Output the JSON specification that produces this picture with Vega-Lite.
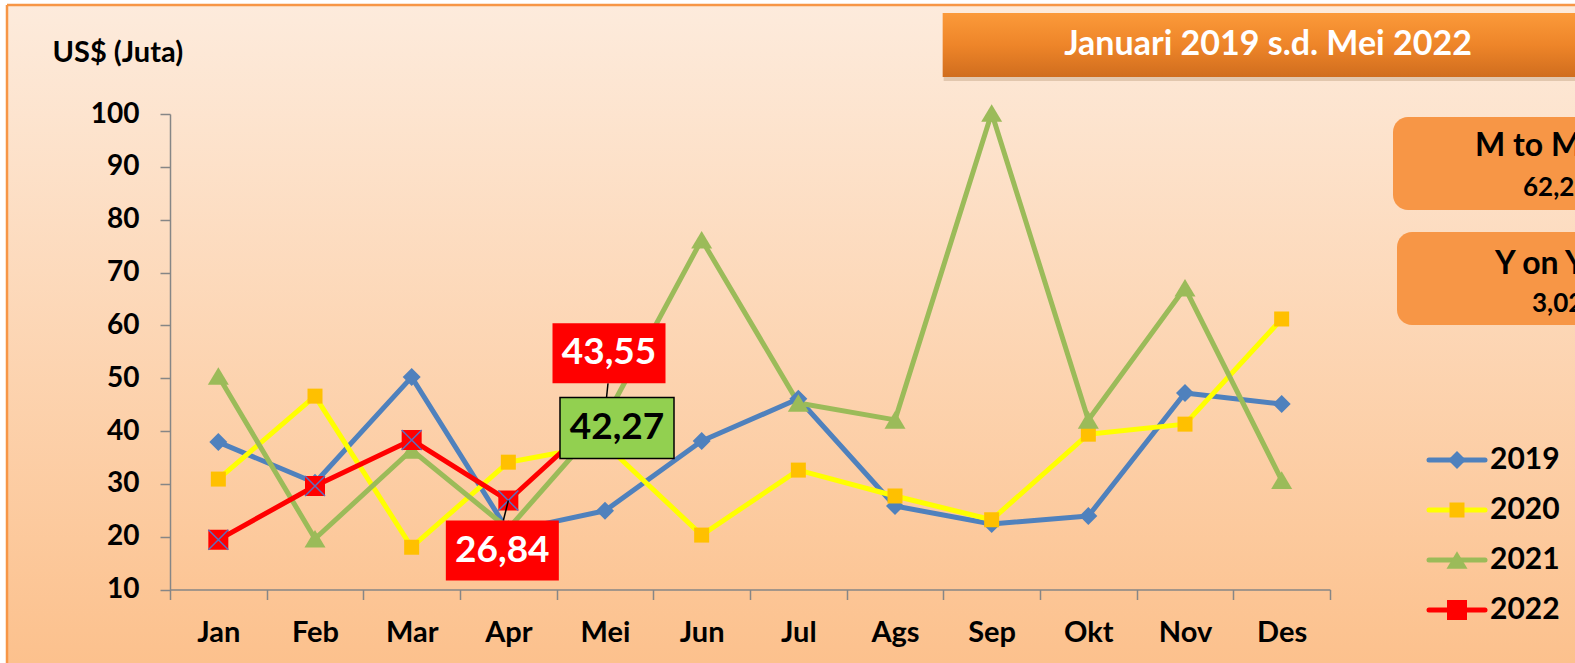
{
  "$schema": "https://vega.github.io/schema/vega-lite/v6.json",
  "width": 1568,
  "height": 658,
  "autosize": {"type": "none"},
  "padding": {"left": 7, "top": 5, "right": 0, "bottom": 0},
  "background": "#ffffff",
  "config": {
    "view": {"stroke": null},
    "font": "Lato",
    "locale": {"number": {"decimal": ",", "thousands": ".", "grouping": [3], "currency": ["", ""]}}
  },
  "datasets": {
    "sales": [
      {"series": "2019", "month": "Jan", "value": 37.9},
      {"series": "2019", "month": "Feb", "value": 30.2},
      {"series": "2019", "month": "Mar", "value": 50.2},
      {"series": "2019", "month": "Apr", "value": 21.0},
      {"series": "2019", "month": "Mei", "value": 24.9},
      {"series": "2019", "month": "Jun", "value": 38.1},
      {"series": "2019", "month": "Jul", "value": 46.1},
      {"series": "2019", "month": "Ags", "value": 25.8},
      {"series": "2019", "month": "Sep", "value": 22.4},
      {"series": "2019", "month": "Okt", "value": 23.9},
      {"series": "2019", "month": "Nov", "value": 47.2},
      {"series": "2019", "month": "Des", "value": 45.1},
      {"series": "2020", "month": "Jan", "value": 30.9},
      {"series": "2020", "month": "Feb", "value": 46.6},
      {"series": "2020", "month": "Mar", "value": 18.0},
      {"series": "2020", "month": "Apr", "value": 34.1},
      {"series": "2020", "month": "Mei", "value": 37.5},
      {"series": "2020", "month": "Jun", "value": 20.3},
      {"series": "2020", "month": "Jul", "value": 32.6},
      {"series": "2020", "month": "Ags", "value": 27.7},
      {"series": "2020", "month": "Sep", "value": 23.2},
      {"series": "2020", "month": "Okt", "value": 39.4},
      {"series": "2020", "month": "Nov", "value": 41.3},
      {"series": "2020", "month": "Des", "value": 61.2},
      {"series": "2021", "month": "Jan", "value": 50.4},
      {"series": "2021", "month": "Feb", "value": 19.6},
      {"series": "2021", "month": "Mar", "value": 36.4},
      {"series": "2021", "month": "Apr", "value": 21.5},
      {"series": "2021", "month": "Mei", "value": 42.27},
      {"series": "2021", "month": "Jun", "value": 76.2},
      {"series": "2021", "month": "Jul", "value": 45.3},
      {"series": "2021", "month": "Ags", "value": 42.1},
      {"series": "2021", "month": "Sep", "value": 100.2},
      {"series": "2021", "month": "Okt", "value": 42.1},
      {"series": "2021", "month": "Nov", "value": 67.1},
      {"series": "2021", "month": "Des", "value": 30.7},
      {"series": "2022", "month": "Jan", "value": 19.4},
      {"series": "2022", "month": "Feb", "value": 29.6},
      {"series": "2022", "month": "Mar", "value": 38.3},
      {"series": "2022", "month": "Apr", "value": 26.84},
      {"series": "2022", "month": "Mei", "value": 43.55}
    ]
  },
  "data": {"name": "sales"},
  "layer": [
    {
      "data": {"values": [{}]},
      "mark": {
        "type": "rect",
        "fill": {"gradient": "linear", "x1": 0, "y1": 0, "x2": 0, "y2": 1,
          "stops": [{"offset": 0, "color": "#FDEBDC"}, {"offset": 1, "color": "#FCC18D"}]},
        "stroke": "#F79646",
        "strokeWidth": 2.5,
        "strokeDash": [1568, 2226, 658, 0]
      },
      "encoding": {}
    },
    {
      "data": {"values": [{}]},
      "mark": {"type": "rect", "fill": "#7a4a20", "opacity": 0.2, "xOffset": 97, "x2Offset": 268, "yOffset": -97, "y2Offset": -33},
      "encoding": {
        "x": {"datum": "Ags", "bandPosition": 0},
        "x2": {"datum": "Des", "bandPosition": 1},
        "y": {"datum": 100},
        "y2": {"datum": 100}
      }
    },
    {
      "data": {"values": [{}]},
      "mark": {
        "type": "rect",
        "fill": {"gradient": "linear", "x1": 0, "y1": 0, "x2": 0, "y2": 1,
          "stops": [{"offset": 0, "color": "#FB9A3A"}, {"offset": 0.5, "color": "#EE8529"}, {"offset": 1, "color": "#D06D1E"}]},
        "xOffset": 96,
        "x2Offset": 268,
        "yOffset": -101,
        "y2Offset": -37
      },
      "encoding": {
        "x": {"datum": "Ags", "bandPosition": 0},
        "x2": {"datum": "Des", "bandPosition": 1},
        "y": {"datum": 100},
        "y2": {"datum": 100}
      }
    },
    {
      "data": {"values": [{}]},
      "mark": {"type": "text", "text": "Januari 2019 s.d. Mei 2022", "font": "Lato", "fontSize": 34, "fontWeight": "bold", "fill": "#ffffff", "align": "center", "baseline": "middle", "xOffset": 83, "yOffset": -69},
      "encoding": {
        "x": {"datum": "Nov", "bandPosition": 0.5},
        "y": {"datum": 100}
      }
    },
    {
      "data": {"values": [{}]},
      "mark": {"type": "rect", "fill": "#F79646", "cornerRadius": 15, "xOffset": 63, "x2Offset": 330, "yOffset": 3, "y2Offset": 96},
      "encoding": {
        "x": {"datum": "Des", "bandPosition": 1},
        "x2": {"datum": "Des", "bandPosition": 1},
        "y": {"datum": 100},
        "y2": {"datum": 100}
      }
    },
    {
      "data": {"values": [{}]},
      "mark": {"type": "rect", "fill": "#F79646", "cornerRadius": 15, "xOffset": 67, "x2Offset": 330, "yOffset": 118, "y2Offset": 211},
      "encoding": {
        "x": {"datum": "Des", "bandPosition": 1},
        "x2": {"datum": "Des", "bandPosition": 1},
        "y": {"datum": 100},
        "y2": {"datum": 100}
      }
    },
    {
      "data": {"values": [{}]},
      "mark": {"type": "text", "text": "M to M", "font": "Lato", "fontSize": 32, "fontWeight": "bold", "fill": "#000000", "align": "left", "baseline": "middle", "xOffset": 145, "yOffset": 32},
      "encoding": {"x": {"datum": "Des", "bandPosition": 1}, "y": {"datum": 100}}
    },
    {
      "data": {"values": [{}]},
      "mark": {"type": "text", "text": "62,23%", "font": "Lato", "fontSize": 26, "fontWeight": "bold", "fill": "#000000", "align": "left", "baseline": "middle", "xOffset": 193, "yOffset": 74},
      "encoding": {"x": {"datum": "Des", "bandPosition": 1}, "y": {"datum": 100}}
    },
    {
      "data": {"values": [{}]},
      "mark": {"type": "text", "text": "Y on Y", "font": "Lato", "fontSize": 32, "fontWeight": "bold", "fill": "#000000", "align": "left", "baseline": "middle", "xOffset": 165, "yOffset": 150},
      "encoding": {"x": {"datum": "Des", "bandPosition": 1}, "y": {"datum": 100}}
    },
    {
      "data": {"values": [{}]},
      "mark": {"type": "text", "text": "3,02%", "font": "Lato", "fontSize": 26, "fontWeight": "bold", "fill": "#000000", "align": "left", "baseline": "middle", "xOffset": 202, "yOffset": 190},
      "encoding": {"x": {"datum": "Des", "bandPosition": 1}, "y": {"datum": 100}}
    },
    {
      "mark": {"type": "line", "strokeWidth": 5, "strokeJoin": "round", "strokeCap": "round"},
      "encoding": {
        "x": {
          "field": "month", "type": "nominal",
          "scale": {"domain": ["Jan", "Feb", "Mar", "Apr", "Mei", "Jun", "Jul", "Ags", "Sep", "Okt", "Nov", "Des"], "range": [163, 1323], "paddingInner": 0, "paddingOuter": 0},
          "axis": {
            "title": null, "offset": -73.5, "tickBand": "extent", "grid": false, "labelAngle": 0, "labelAlign": "center", "labelBaseline": "top", "zindex": 1,
            "domainColor": "#868686", "domainWidth": 1.5, "tickColor": "#868686", "tickWidth": 1.5, "tickSize": 10,
            "labelFont": "Lato", "labelFontSize": 29, "labelFontWeight": "bold", "labelColor": "#000000", "labelPadding": 19
          }
        },
        "y": {
          "field": "value", "type": "quantitative",
          "scale": {"domain": [10, 100], "range": [584.5, 109], "nice": false, "zero": false},
          "axis": {
            "title": "US$ (Juta)", "titleAngle": 0, "titleAlign": "left", "titleBaseline": "middle", "titleX": -118, "titleY": 47,
            "titleFont": "Lato", "titleFontSize": 29, "titleFontWeight": "bold", "titleColor": "#000000",
            "offset": -163, "values": [10, 20, 30, 40, 50, 60, 70, 80, 90, 100], "grid": false, "zindex": 1,
            "domainColor": "#868686", "domainWidth": 1.5, "tickColor": "#868686", "tickWidth": 1.5, "tickSize": 10,
            "labelFont": "Lato", "labelFontSize": 28, "labelFontWeight": "bold", "labelColor": "#000000", "labelPadding": 21
          }
        },
        "stroke": {
          "field": "series", "type": "nominal",
          "scale": {"range": ["#4F81BD", "#FFFF00", "#9BBB59", "#FF0000"]},
          "legend": {
            "orient": "none", "legendX": 1435, "legendY": 440, "title": null, "padding": 0, "zindex": 1,
            "symbolType": "M-2.8,0L2.8,0", "symbolSize": 400, "symbolStrokeWidth": 5,
            "labelFont": "Lato", "labelFontSize": 30, "labelFontWeight": "bold", "labelColor": "#000000",
            "labelOffset": 18, "rowPadding": 20, "labelLimit": 300,
            "encode": {"symbols": {"update": {"strokeCap": {"value": "round"}}}}
          }
        }
      }
    },
    {
      "mark": {"type": "point", "filled": true, "opacity": 1, "size": 400, "strokeWidth": 0},
      "encoding": {
        "x": {"field": "month", "type": "nominal"},
        "y": {"field": "value", "type": "quantitative"},
        "fill": {
          "field": "series", "type": "nominal",
          "scale": {"domain": ["2019", "2020", "2021", "2022"], "range": ["#4F81BD", "#FFC000", "#9BBB59", "#FF0000"]},
          "legend": {
            "orient": "none", "legendX": 1435, "legendY": 440, "title": null, "padding": 0, "zindex": 2,
            "symbolSize": 400, "symbolStrokeWidth": 0,
            "labelFont": "Lato", "labelFontSize": 30, "labelFontWeight": "bold", "labelOpacity": 0,
            "labelOffset": 18, "rowPadding": 20, "labelLimit": 300,
            "encode": {"symbols": {"update": {"stroke": {"signal": "datum.value === '2022' ? '#5B6FBF' : 'transparent'"}, "strokeWidth": {"value": 1.5}}}}
          }
        },
        "shape": {
          "field": "series", "type": "nominal",
          "scale": {"domain": ["2019", "2020", "2021", "2022"], "range": [
            "M0,-0.9L0.9,0L0,0.9L-0.9,0Z",
            "M-0.75,-0.75L0.75,-0.75L0.75,0.75L-0.75,0.75Z",
            "M0,-0.88L1.05,0.88L-1.05,0.88Z",
            "M-1,-1L1,-1L1,1L-1,1Z M-1,-1L1,1 M1,-1L-1,1"
          ]},
          "legend": {
            "orient": "none", "legendX": 1435, "legendY": 440, "title": null, "padding": 0, "zindex": 2,
            "symbolSize": 400, "symbolStrokeWidth": 0,
            "labelFont": "Lato", "labelFontSize": 30, "labelFontWeight": "bold", "labelOpacity": 0,
            "labelOffset": 18, "rowPadding": 20, "labelLimit": 300,
            "encode": {"symbols": {"update": {"stroke": {"signal": "datum.value === '2022' ? '#5B6FBF' : 'transparent'"}, "strokeWidth": {"value": 1.5}}}}
          }
        }
      }
    },
    {
      "transform": [{"filter": "datum.series === '2022'"}],
      "mark": {"type": "point", "shape": "M-1,-1L1,1M1,-1L-1,1", "filled": false, "opacity": 1, "size": 400, "stroke": "#5B6FBF", "strokeWidth": 1.5},
      "encoding": {
        "x": {"field": "month", "type": "nominal"},
        "y": {"field": "value", "type": "quantitative"}
      }
    },
    {
      "transform": [{"filter": "datum.series === '2022' && datum.month === 'Mei'"}],
      "mark": {"type": "rule", "stroke": "#000000", "strokeWidth": 1.5, "x2Offset": 3, "y2Offset": -29},
      "encoding": {
        "x": {"field": "month", "type": "nominal"},
        "y": {"field": "value", "type": "quantitative"},
        "x2": {"field": "month"},
        "y2": {"field": "value"}
      }
    },
    {
      "transform": [{"filter": "datum.series === '2022' && datum.month === 'Apr'"}],
      "mark": {"type": "rule", "stroke": "#000000", "strokeWidth": 1.5, "x2Offset": -5, "y2Offset": 20},
      "encoding": {
        "x": {"field": "month", "type": "nominal"},
        "y": {"field": "value", "type": "quantitative"},
        "x2": {"field": "month"},
        "y2": {"field": "value"}
      }
    },
    {
      "transform": [{"filter": "datum.series === '2022' && datum.month === 'Mei'"}],
      "mark": {"type": "point", "shape": "M-1,-0.53L1,-0.53L1,0.53L-1,0.53Z", "size": 12769, "filled": true, "fill": "#FF0000", "opacity": 1, "strokeWidth": 0, "xOffset": 4, "yOffset": -59},
      "encoding": {"x": {"field": "month", "type": "nominal"}, "y": {"field": "value", "type": "quantitative"}}
    },
    {
      "transform": [{"filter": "datum.series === '2022' && datum.month === 'Mei'"}],
      "mark": {"type": "text", "font": "Lato", "fontSize": 37, "fontWeight": "bold", "fill": "#ffffff", "align": "center", "baseline": "middle", "xOffset": 4, "yOffset": -59},
      "encoding": {"x": {"field": "month", "type": "nominal"}, "y": {"field": "value", "type": "quantitative"}, "text": {"field": "value", "type": "quantitative", "format": ".2f"}}
    },
    {
      "transform": [{"filter": "datum.series === '2021' && datum.month === 'Mei'"}],
      "mark": {"type": "point", "shape": "M-1,-0.535L1,-0.535L1,0.535L-1,0.535Z", "size": 12996, "filled": true, "fill": "#92D050", "opacity": 1, "stroke": "#000000", "strokeWidth": 1.5, "xOffset": 12, "yOffset": 9},
      "encoding": {"x": {"field": "month", "type": "nominal"}, "y": {"field": "value", "type": "quantitative"}}
    },
    {
      "transform": [{"filter": "datum.series === '2021' && datum.month === 'Mei'"}],
      "mark": {"type": "text", "font": "Lato", "fontSize": 37, "fontWeight": "bold", "fill": "#000000", "align": "center", "baseline": "middle", "xOffset": 12, "yOffset": 9},
      "encoding": {"x": {"field": "month", "type": "nominal"}, "y": {"field": "value", "type": "quantitative"}, "text": {"field": "value", "type": "quantitative", "format": ".2f"}}
    },
    {
      "transform": [{"filter": "datum.series === '2022' && datum.month === 'Apr'"}],
      "mark": {"type": "point", "shape": "M-1,-0.53L1,-0.53L1,0.53L-1,0.53Z", "size": 12769, "filled": true, "fill": "#FF0000", "opacity": 1, "strokeWidth": 0, "xOffset": -6, "yOffset": 50},
      "encoding": {"x": {"field": "month", "type": "nominal"}, "y": {"field": "value", "type": "quantitative"}}
    },
    {
      "transform": [{"filter": "datum.series === '2022' && datum.month === 'Apr'"}],
      "mark": {"type": "text", "font": "Lato", "fontSize": 37, "fontWeight": "bold", "fill": "#ffffff", "align": "center", "baseline": "middle", "xOffset": -6, "yOffset": 50},
      "encoding": {"x": {"field": "month", "type": "nominal"}, "y": {"field": "value", "type": "quantitative"}, "text": {"field": "value", "type": "quantitative", "format": ".2f"}}
    }
  ]
}
